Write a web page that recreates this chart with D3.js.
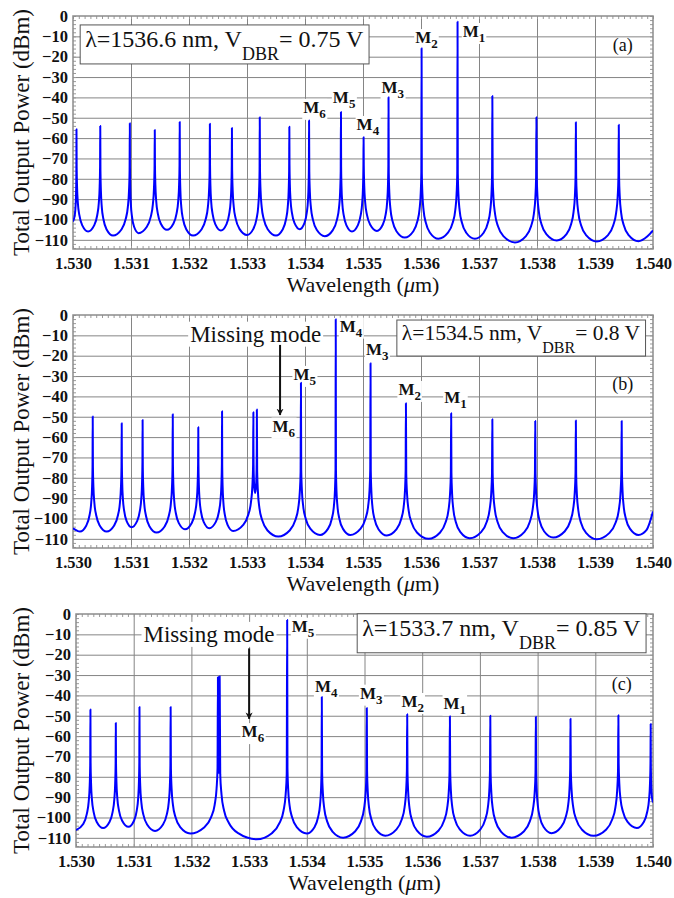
<!DOCTYPE html>
<html>
<head>
<meta charset="utf-8">
<script src="https://cdn.jsdelivr.net/npm/d3@7"></script>
<style>
  body { margin: 0; background: #fff; }
  svg text { font-family: "Liberation Serif", "DejaVu Serif", serif; fill: #111; }
  .tick-label text { font-family: "Liberation Serif", "DejaVu Serif", serif; font-weight: bold; font-size: 16.5px; }
  .grid line { stroke: #858585; stroke-width: 1; }
  .minor line { stroke: #9a9a9a; stroke-width: 1; }
  .path-spectrum { fill: none; stroke: #0000ff; stroke-width: 2; stroke-linejoin: round; }
</style>
</head>
<body>
<div id="chart"></div>
<script>
// Axis ticks
const xTickValues = [1.530, 1.531, 1.532, 1.533, 1.534, 1.535, 1.536, 1.537, 1.538, 1.539, 1.540]
const xTickLabels = ['1.530', '1.531', '1.532', '1.533', '1.534', '1.535', '1.536', '1.537', '1.538', '1.539', '1.540']
const yTickValues = [0, -10, -20, -30, -40, -50, -60, -70, -80, -90, -100, -110]

// Panel (a): lasing at 1536.6 nm, V_DBR = 0.75 V
const modeWlA = [1.53006, 1.53047, 1.53098, 1.53141, 1.53184, 1.53236, 1.53274, 1.53322, 1.53373, 1.53407,
  1.53462, 1.53501, 1.53544, 1.53601, 1.53663, 1.53723, 1.53799, 1.53867, 1.53941]
const modeDbA = [-55.6, -54.0, -52.7, -56.0, -52.1, -53.0, -55.0, -49.7, -54.4, -51.4,
  -47.2, -59.6, -39.9, -15.9, -2.8, -39.3, -49.8, -52.2, -53.5]
const valleyWlA = [1.53000, 1.53026, 1.53069, 1.53113, 1.53162, 1.53207, 1.53255, 1.53300, 1.53350, 1.53391,
  1.53434, 1.53481, 1.53524, 1.53572, 1.53630, 1.53693, 1.53762, 1.53834, 1.53903, 1.53975, 1.53990, 1.54000]
const valleyDbA = [-101.0, -105.9, -107.9, -106.7, -105.1, -107.9, -105.4, -107.6, -107.9, -104.8,
  -108.2, -105.9, -105.6, -108.9, -109.5, -109.5, -111.3, -110.3, -110.8, -110.7, -108.4, -105.4]

// Panel (b): lasing at 1534.5 nm, V_DBR = 0.8 V
const modeWlB = [1.53034, 1.53084, 1.53120, 1.53172, 1.53216, 1.53257, 1.53311, 1.53317, 1.53393, 1.53453,
  1.53513, 1.53574, 1.53652, 1.53723, 1.53797, 1.53867, 1.53946]
const modeDbB = [-49.9, -53.2, -51.6, -48.8, -55.2, -47.3, -47.8, -46.5, -33.3, -2.1,
  -23.7, -43.4, -48.3, -51.2, -52.1, -51.9, -52.1]
const valleyWlB = [1.53000, 1.53012, 1.53058, 1.53101, 1.53144, 1.53193, 1.53235, 1.53276, 1.53314, 1.53354,
  1.53426, 1.53478, 1.53541, 1.53613, 1.53684, 1.53759, 1.53828, 1.53903, 1.53975, 1.53989, 1.54000]
const valleyDbB = [-104.8, -106.4, -106.4, -104.3, -106.9, -105.3, -104.8, -106.1, -87.5, -108.9,
  -108.1, -108.1, -108.4, -110.0, -109.7, -109.7, -109.4, -110.2, -108.1, -105.6, -96.6]

// Panel (c): lasing at 1533.7 nm, V_DBR = 0.85 V
const modeWlC = [1.53025, 1.53069, 1.53110, 1.53164, 1.53246, 1.53249, 1.53366, 1.53426, 1.53504, 1.53574,
  1.53648, 1.53718, 1.53797, 1.53857, 1.53940, 1.53996]
const modeDbC = [-46.9, -53.6, -45.7, -45.7, -31.0, -30.6, -3.0, -40.8, -46.2, -49.3,
  -50.3, -50.0, -50.5, -51.5, -49.8, -54.1]
const valleyWlC = [1.53000, 1.53047, 1.53091, 1.53137, 1.53198, 1.532475, 1.53313, 1.53400, 1.53463, 1.53536,
  1.53608, 1.53683, 1.53755, 1.53824, 1.53897, 1.53972, 1.54000]
const valleyDbC = [-106.2, -105.2, -104.6, -106.6, -107.9, -78.0, -110.7, -107.9, -109.9, -109.0,
  -109.5, -109.0, -109.9, -107.7, -109.0, -105.2, -92.6]

// Shape of a mode's skirt: fraction of the way from the peak
// to the neighbouring valley, and height above that valley (dB)
const skirtFrac = [0.5, 0.25, 0.12, 0.05, 0.015]
const skirtRise = [3, 8, 14, 22, 32]

const panels = [
  {
    top: 16, left: 73,
    modeWl: modeWlA, modeDb: modeDbA, valleyWl: valleyWlA, valleyDb: valleyDbA,
    box: { wl: 1.53021, db: -15.2, lambda: '1536.6', volt: '0.75', size: 24, sub: 18 },
    tag: { text: '(a)', wl: 1.53948, db: -17.4 },
    modes: [['6', 1.53397, -47.6], ['5', 1.53448, -42.7], ['4', 1.53489, -56.0],
      ['3', 1.53532, -37.8], ['2', 1.53590, -13.3], ['1', 1.53672, -10.3]],
    missing: null
  },
  {
    top: 315, left: 73,
    modeWl: modeWlB, modeDb: modeDbB, valleyWl: valleyWlB, valleyDb: valleyDbB,
    box: { wl: 1.53567, db: -12.3, lambda: '1534.5', volt: '0.8', size: 21.5, sub: 16 },
    tag: { text: '(b)', wl: 1.53948, db: -36.8 },
    modes: [['6', 1.53344, -57.3], ['5', 1.53380, -31.9], ['4', 1.53460, -8.2],
      ['3', 1.53505, -19.6], ['2', 1.53561, -39.3], ['1', 1.53640, -43.4]],
    missing: { wl: 1.53202, db: -13.1, arrowWl: 1.53357, from: -14.7, to: -49.1 }
  },
  {
    top: 614, left: 76,
    modeWl: modeWlC, modeDb: modeDbC, valleyWl: valleyWlC, valleyDb: valleyDbC,
    box: { wl: 1.53496, db: -10.7, lambda: '1533.7', volt: '0.85', size: 24, sub: 18 },
    tag: { text: '(c)', wl: 1.53946, db: -37.5 },
    modes: [['6', 1.53287, -60.5], ['5', 1.53374, -8.7], ['4', 1.53414, -38.3],
      ['3', 1.53492, -41.6], ['2', 1.53564, -45.7], ['1', 1.53637, -46.5]],
    missing: { wl: 1.53117, db: -13.7, arrowWl: 1.53300, from: -16.9, to: -51.5 }
  }
]

const width = 674
const height = 898
const plotRight = 653
const plotHeight = 233

const svg = d3.select('#chart')
  .append('svg')
  .attr('width', width)
  .attr('height', height)

svg.append('defs')
  .append('marker')
  .attr('id', 'arrow')
  .attr('viewBox', '0 0 10 10')
  .attr('refX', 9)
  .attr('refY', 5)
  .attr('markerWidth', 7)
  .attr('markerHeight', 9)
  .attr('markerUnits', 'userSpaceOnUse')
  .attr('orient', 'auto')
  .append('path')
  .attr('d', 'M0,0 L10,5 L0,10 L3,5 Z')
  .attr('fill', '#111')

// Merge peaks and valleys into one ordered run of points along the spectrum
function spectrumPoints(p) {
  const knots = []
  p.modeWl.forEach((wl, i) => knots.push({ wl, db: p.modeDb[i], peak: true }))
  p.valleyWl.forEach((wl, i) => knots.push({ wl, db: p.valleyDb[i], peak: false }))
  knots.sort((a, b) => a.wl - b.wl)

  const pts = []
  knots.forEach((k, i) => {
    if (!k.peak) {
      pts.push([k.wl, k.db])
      return
    }
    const prev = knots[i - 1]
    const next = knots[i + 1]
    if (prev && !prev.peak) {
      skirtFrac.forEach((f, j) => pts.push([k.wl - f * (k.wl - prev.wl), prev.db + skirtRise[j]]))
    }
    pts.push([k.wl, k.db])
    if (next && !next.peak) {
      for (let j = skirtFrac.length - 1; j >= 0; j--) {
        pts.push([k.wl + skirtFrac[j] * (next.wl - k.wl), next.db + skirtRise[j]])
      }
    }
  })
  return pts
}

// White patch behind a text so the grid is broken around it
function backing(layer, textSel, pad) {
  const b = textSel.node().getBBox()
  layer.append('rect')
    .attr('x', b.x - pad)
    .attr('y', b.y - pad + 2)
    .attr('width', b.width + 2 * pad)
    .attr('height', b.height + 2 * pad - 4)
    .attr('fill', '#fff')
}

panels.forEach((p, idx) => {
  const xScale = d3.scaleLinear().domain([1.530, 1.540]).range([p.left, plotRight])
  const yScale = d3.scaleLinear().domain([-114.5, 0]).range([p.top + plotHeight, p.top])
  const bottom = p.top + plotHeight
  const innerWidth = plotRight - p.left

  const g = svg.append('g')

  // Grid
  g.append('g')
    .attr('class', 'grid')
    .attr('transform', `translate(0, ${bottom})`)
    .call(d3.axisBottom(xScale).tickValues(xTickValues.slice(1, -1)).tickSize(-plotHeight).tickFormat(''))
    .call(s => s.select('.domain').remove())

  g.append('g')
    .attr('class', 'grid')
    .attr('transform', `translate(${p.left}, 0)`)
    .call(d3.axisLeft(yScale).tickValues(yTickValues.slice(1)).tickSize(-innerWidth).tickFormat(''))
    .call(s => s.select('.domain').remove())

  // Minor inner ticks on all four sides
  const minorX = d3.range(0, 101).map(i => 1.530 + i * 0.0001)
  const minorY = d3.range(-114, 1, 2)
  g.append('g').attr('class', 'minor').attr('transform', `translate(0, ${p.top})`)
    .call(d3.axisBottom(xScale).tickValues(minorX).tickSize(3).tickFormat(''))
    .call(s => s.select('.domain').remove())
  g.append('g').attr('class', 'minor').attr('transform', `translate(0, ${bottom})`)
    .call(d3.axisTop(xScale).tickValues(minorX).tickSize(3).tickFormat(''))
    .call(s => s.select('.domain').remove())
  g.append('g').attr('class', 'minor').attr('transform', `translate(${p.left}, 0)`)
    .call(d3.axisRight(yScale).tickValues(minorY).tickSize(3).tickFormat(''))
    .call(s => s.select('.domain').remove())
  g.append('g').attr('class', 'minor').attr('transform', `translate(${plotRight}, 0)`)
    .call(d3.axisLeft(yScale).tickValues(minorY).tickSize(3).tickFormat(''))
    .call(s => s.select('.domain').remove())

  // Frame
  g.append('rect')
    .attr('x', p.left)
    .attr('y', p.top)
    .attr('width', innerWidth)
    .attr('height', plotHeight)
    .attr('fill', 'none')
    .attr('stroke', '#8c8c8c')
    .attr('stroke-width', 1.5)

  // Tick labels
  g.append('g')
    .attr('class', 'tick-label')
    .attr('transform', `translate(0, ${bottom})`)
    .call(d3.axisBottom(xScale).tickValues(xTickValues).tickSize(0).tickPadding(8)
      .tickFormat((d, i) => xTickLabels[i]))
    .call(s => s.select('.domain').remove())

  g.append('g')
    .attr('class', 'tick-label')
    .attr('transform', `translate(${p.left}, 0)`)
    .call(d3.axisLeft(yScale).tickValues(yTickValues).tickSize(0).tickPadding(5))
    .call(s => s.select('.domain').remove())

  // Axis titles
  g.append('text')
    .attr('x', (p.left + plotRight) / 2)
    .attr('y', bottom + 43)
    .attr('text-anchor', 'middle')
    .attr('font-size', 22)
    .html('Wavelength (<tspan font-style="italic">μ</tspan>m)')

  g.append('text')
    .attr('transform', `translate(29, ${p.top + plotHeight / 2}) rotate(-90)`)
    .attr('text-anchor', 'middle')
    .attr('font-size', 23)
    .text('Total Output Power (dBm)')

  // Annotations
  const labels = g.append('g')

  p.modes.forEach(([n, wl, db]) => {
    const t = labels.append('text')
      .attr('x', xScale(wl))
      .attr('y', yScale(db))
      .attr('font-weight', 'bold')
      .attr('font-size', 17)
    t.append('tspan').text('M')
    t.append('tspan').attr('dy', 5).attr('font-size', 13).text(n)
    backing(labels, t, 1)
    t.raise()
  })

  if (p.missing) {
    const m = p.missing
    const t = labels.append('text')
      .attr('x', xScale(m.wl))
      .attr('y', yScale(m.db))
      .attr('font-size', 23)
      .text('Missing mode')
    backing(labels, t, 2)
    t.raise()
  }

  labels.append('text')
    .attr('x', xScale(p.tag.wl))
    .attr('y', yScale(p.tag.db))
    .attr('text-anchor', 'middle')
    .attr('font-size', 18)
    .text(p.tag.text)

  // Spectrum
  const line = d3.line()
    .x(d => xScale(d[0]))
    .y(d => yScale(d[1]))
    .curve(d3.curveMonotoneX)

  g.append('clipPath')
    .attr('id', `clip-${idx}`)
    .append('rect')
    .attr('x', p.left)
    .attr('y', p.top - 2)
    .attr('width', innerWidth)
    .attr('height', plotHeight + 2)

  g.append('path')
    .datum(spectrumPoints(p))
    .attr('class', 'path-spectrum')
    .attr('clip-path', `url(#clip-${idx})`)
    .attr('d', line)

  if (p.missing) {
    const m = p.missing
    g.append('line')
      .attr('x1', xScale(m.arrowWl))
      .attr('x2', xScale(m.arrowWl))
      .attr('y1', yScale(m.from))
      .attr('y2', yScale(m.to))
      .attr('stroke', '#111')
      .attr('stroke-width', 2)
      .attr('marker-end', 'url(#arrow)')
  }

  // Operating point box
  const bx = g.append('g')
  const bt = bx.append('text')
    .attr('x', xScale(p.box.wl))
    .attr('y', yScale(p.box.db))
    .attr('font-size', p.box.size)
  bt.append('tspan').text(`λ=${p.box.lambda} nm, V`)
  bt.append('tspan').attr('dy', 13).attr('font-size', p.box.sub).text('DBR')
  bt.append('tspan').attr('dy', -13).text(`= ${p.box.volt} V`)
  const bb = bt.node().getBBox()
  bx.insert('rect', 'text')
    .attr('x', bb.x - 5)
    .attr('y', bb.y - 1)
    .attr('width', bb.width + 10)
    .attr('height', bb.height + 1)
    .attr('fill', '#fff')
    .attr('stroke', '#555')
    .attr('stroke-width', 1)
})
</script>
</body>
</html>
